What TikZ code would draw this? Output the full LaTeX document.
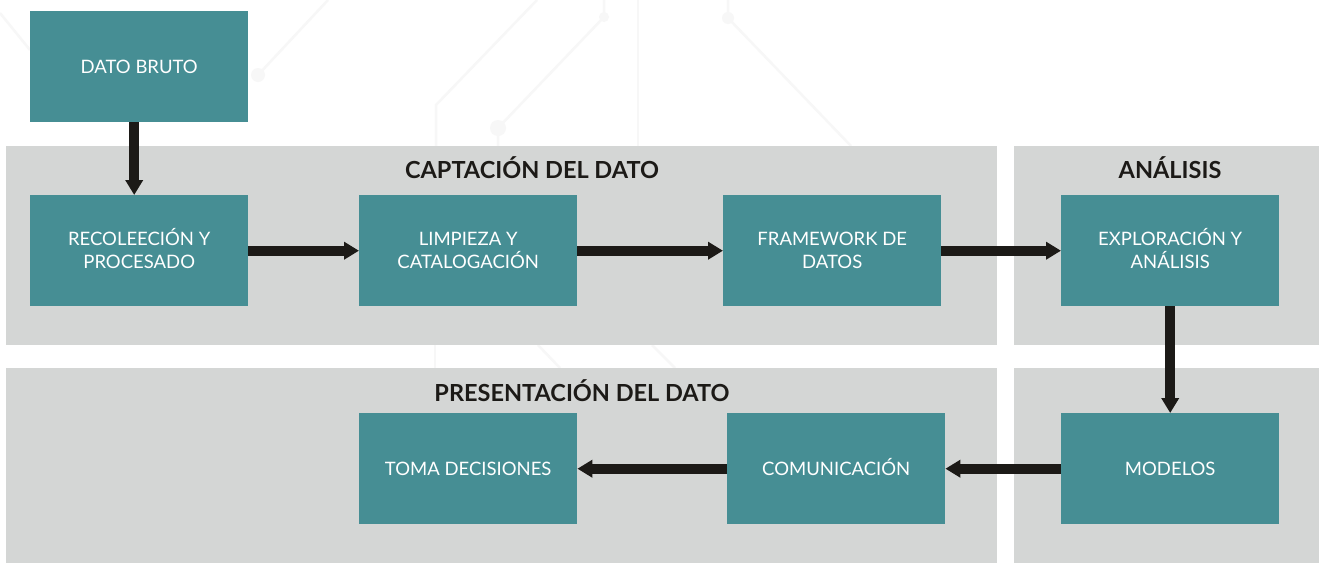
\documentclass[tikz,border=0pt]{standalone}
\usepackage{fontspec}
\setmainfont{Lato}
\usetikzlibrary{arrows.meta}
\definecolor{teal}{HTML}{468E94}
\definecolor{panel}{HTML}{D4D6D5}
\definecolor{arrowc}{HTML}{1C1A17}
\definecolor{faint}{HTML}{F7F7F7}
\newcommand\accstrut{\rule{0pt}{17.5pt}}
\newcommand\depstrut{\rule[-4pt]{0pt}{0pt}}
\tikzset{
  stepbox/.style={fill=teal, minimum width=218pt, minimum height=111pt, inner sep=0pt,
    text=white, font=\fontsize{18.5}{23}\selectfont, align=center, anchor=north west},
  panelbox/.style={fill=panel, draw=none},
  title/.style={font=\fontsize{23.5}{26}\selectfont\bfseries, text=arrowc},
  flow/.style={draw=arrowc, line width=10pt, -{Triangle[length=15pt,width=17pt]}},
  circuit/.style={draw=faint, line width=2.5pt},
  dot/.style={fill=faint, draw=none}
}
\begin{document}
\begin{tikzpicture}[x=1pt,y=-1pt]
\useasboundingbox (0,0) rectangle (1319,563);
\fill[white] (0,0) rectangle (1319,563);
% faint circuit background
\draw[circuit] (0,13) -- (30,50);
\draw[circuit] (328,0) -- (258,75);
\fill[dot] (258,75) circle (7pt);
\draw[circuit] (537,0) -- (436,105) -- (436,146);
\draw[circuit] (604,0) -- (604,17) -- (498,128) -- (498,146);
\fill[dot] (604,17) circle (5pt);
\fill[dot] (498,128) circle (8pt);
\draw[circuit] (638,0) -- (638,146);
\draw[circuit] (728,0) -- (728,18) -- (851,146);
\fill[dot] (728,18) circle (6pt);
\draw[circuit] (435,345) -- (435,368);
\draw[circuit] (538,345) -- (560,368);
\draw[circuit] (652,345) -- (675,368);
% panels
\path[panelbox] (6,146) rectangle (997,345);
\path[panelbox] (1014,146) rectangle (1319,345);
\path[panelbox] (6,368) rectangle (997,563);
\path[panelbox] (1014,368) rectangle (1319,563);
% titles
\node[title] (t1) at (532,168) {CAPTACIÓN DEL DATO};
\node[title] (t2) at (1170,168) {ANÁLISIS};
\node[title] (t3) at (582,391) {PRESENTACIÓN DEL DATO};
% boxes
\node[stepbox] (bruto) at (30,11) {\accstrut DATO BRUTO\depstrut};
\node[stepbox] (reco) at (30,195) {\accstrut RECOLEECIÓN Y\\PROCESADO\depstrut};
\node[stepbox] (limp) at (359,195) {\accstrut LIMPIEZA Y\\CATALOGACIÓN\depstrut};
\node[stepbox] (frame) at (723,195) {\accstrut FRAMEWORK DE\\DATOS\depstrut};
\node[stepbox] (expl) at (1061,195) {\accstrut EXPLORACIÓN Y\\ANÁLISIS\depstrut};
\node[stepbox] (mod) at (1061,413) {\accstrut MODELOS\depstrut};
\node[stepbox] (com) at (727,413) {\accstrut COMUNICACIÓN\depstrut};
\node[stepbox] (toma) at (359,413) {\accstrut TOMA DECISIONES\depstrut};
% arrows
\draw[flow] ([xshift=-5pt]bruto.south) -- ([xshift=-5pt]reco.north);
\draw[flow] (reco.east) -- (limp.west);
\draw[flow] (limp.east) -- (frame.west);
\draw[flow] (frame.east) -- (expl.west);
\draw[flow] (expl.south) -- (mod.north);
\draw[flow] (mod.west) -- (com.east);
\draw[flow] (com.west) -- (toma.east);
\end{tikzpicture}
\end{document}
